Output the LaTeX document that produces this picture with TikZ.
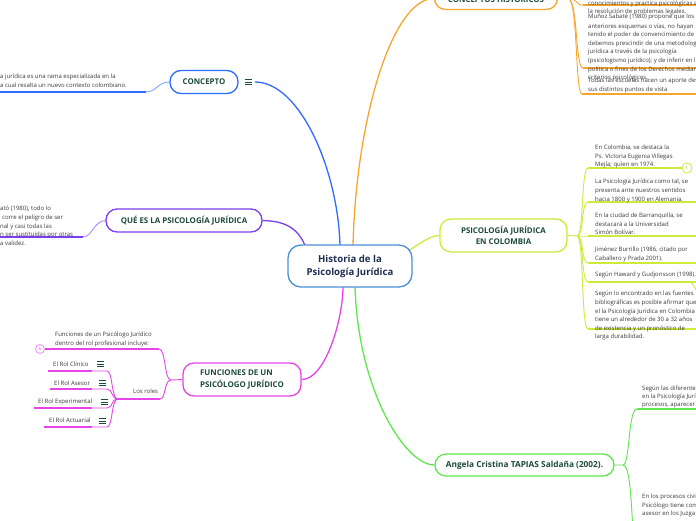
\documentclass[tikz,border=0pt]{standalone}
\usepackage{fontspec}
\setmainfont{Open Sans}
\usetikzlibrary{calc,backgrounds}
\definecolor{cblue}{HTML}{2F6BFF}
\definecolor{cpurple}{HTML}{7B3DF0}
\definecolor{cmag}{HTML}{E545E8}
\definecolor{corange}{HTML}{F8A62B}
\definecolor{cyel}{HTML}{CCEB3C}
\definecolor{cgreen}{HTML}{5EE84C}
\definecolor{croot}{HTML}{4A8FD8}
\definecolor{ctopic}{HTML}{1D4A3A}
\definecolor{ctxt}{HTML}{3A3A3A}
\definecolor{croottext}{HTML}{1E2D52}
\tikzset{
 topic/.style={draw, line width=1.3pt, rounded corners=11pt, fill=white, inner sep=0pt, text=ctopic, font=\fontsize{7.9}{11.5}\selectfont\bfseries},
 txt/.style={anchor=north west, inner sep=0pt, align=left, text=ctxt, font=\fontsize{6}{8.6}\selectfont},
 itm/.style={anchor=base west, inner sep=0pt, text=ctxt, font=\fontsize{6}{8.6}\selectfont},
 conn/.style={line width=1.3pt},
 uline/.style={line width=1.8pt},
 thinl/.style={line width=0.9pt},
 cnt/.style={circle, line width=0.8pt, fill=white, minimum size=9pt, inner sep=0pt, font=\fontsize{4.5}{5}\selectfont},
 hamb/.pic={\draw[line width=0.8pt, ctopic] (-3.5,-2.8)--(3.5,-2.8) (-3.5,0)--(3.5,0) (-3.5,2.8)--(3.5,2.8);}
}
\begin{document}
\begin{tikzpicture}[x=1pt,y=-1pt]
\useasboundingbox (0,0) rectangle (696,520);
% ---------- nodes
\node[draw=croot, line width=1.3pt, rounded corners=13pt, minimum width=124pt, minimum height=42pt, fill=white, align=center, inner sep=0pt, text=croottext, font=\fontsize{9.6}{13}\selectfont\bfseries] (root) at (350,266) {Historia de la\\Psicología Jurídica};

\node[topic, draw=cblue, minimum width=68pt, minimum height=23pt] (concept) at (204,82) {CONCEPTO};
\pic at (248,82) {hamb};
\coordinate (conceptic) at (255,82);
\node[txt] (ctext) at (0,74) {a jurídica es una rama especializada en la\\a cual resalta un nuevo contexto colombiano.};

\node[topic, draw=cpurple, minimum width=156pt, minimum height=23pt] (que) at (184,220.5) {QUÉ ES LA PSICOLOGÍA JURÍDICA};
\node[txt] (qtext) at (0,206) {ató (1980), todo lo\\\hspace*{2pt}corre el peligro de ser\\nal y casi todas las\\n ser sustituidas por otras\\a validez.};

\node[topic, draw=cmag, minimum width=118pt, minimum height=33pt, align=left] (func) at (242,379.5) {FUNCIONES DE UN\\PSICÓLOGO JURÍDICO};
\node[txt] (ftext) at (55,332) {Funciones de un Psicólogo Jurídico\\dentro del rol profesional incluye:};
\node[cnt, draw=cmag!60, text=cmag] (fcirc) at (40,349) {6};
\node[itm] (lrtext) at (133,393.5) {Los roles};
\node[itm] (r1t) at (53,366) {El Rol Clínico};
\node[itm] (r2t) at (54,385) {El Rol Asesor};
\node[itm] (r3t) at (38,403.5) {El Rol Experimental};
\node[itm] (r4t) at (49,422.5) {El Rol Actuarial};
\pic at (100,364) {hamb};
\pic at (102,383) {hamb};
\pic at (104,402) {hamb};
\pic at (102,421) {hamb};

\node[topic, draw=corange, minimum width=123pt, minimum height=22pt] (hist) at (496,-1.5) {CONCEPTOS HISTÓRICOS};
\node[txt] (ha) at (588,0.5) {conocimientos y practica psicológicas a\\la resolución de problemas legales.};
\node[txt] (hb) at (588,13.5) {Muñoz Sabaté (1980) propone que los\\[1.2pt]anteriores esquemas o vías, no hayan\\tenido el poder de convencimiento de q\\debemos prescindir de una metodologí\\jurídica a través de la psicología\\(psicologismo jurídico); y de inferir en la\\política o fines de los Derechos median\\criterios psicológicos.};
\node[txt] (hc) at (588,78) {Todas las escuelas hacen un aporte des\\sus distintos puntos de vista};

\node[topic, draw=cyel, minimum width=127pt, minimum height=33pt, align=center] (col) at (503.5,235.5) {PSICOLOGÍA JURÍDICA\\EN COLOMBIA};
\node[txt] (y1) at (595,145) {En Colombia, se destaca la\\Ps. Victoria Eugenia Villegas\\Mejía; quien en 1974.};
\node[txt] (y2) at (595,179) {La Psicología Jurídica como tal, se\\presenta ante nuestros sentidos\\hacia 1800 y 1900 en Alemania.};
\node[txt] (y3) at (595,213) {En la ciudad de Barranquilla, se\\destacará a la Universidad\\Simón Bolívar.};
\node[txt] (y4) at (595,247) {Jiménez Burrillo (1986, citado por\\Caballero y Prada 2001).};
\node[txt] (y5) at (595,272) {Según Haward y Gudjonsson (1998).};
\node[txt] (y6) at (595,291) {Según lo encontrado en las fuentes\\bibliográficas es posible afirmar que\\el la Psicología Jurídica en Colombia\\tiene un alrededor de 30 a 32 años\\de existencia y un pronóstico de\\larga durabilidad.};
\node[cnt, draw=cyel, text=cyel!70!black, minimum size=10pt] (ycirc) at (687,168) {1};

\node[topic, draw=cgreen, minimum width=179pt, minimum height=22pt, font=\fontsize{8.3}{10}\selectfont\bfseries] (ang) at (524.5,465) {Angela Cristina TAPIAS Saldaña (2002).};
\node[txt, font=\fontsize{6}{8}\selectfont] (g1) at (642,386) {Según las diferente\\en la Psicología Jurí\\procesos, aparecer};
\node[txt] (g2) at (642,494) {En los procesos civi\\Psicólogo tiene com\\asesor en los Juzga};

% ---------- connectors
\begin{scope}[on background layer]
\fill[white] (0,0) rectangle (696,520);
% concept
\coordinate (cu) at (146,92); \coordinate (cu0) at (0,92);
\draw[conn, cblue] (conceptic) .. controls (300,82) and (338,170) .. ($(root.north)+(-10,1)$);
\draw[thinl, cblue!60] (concept.west) .. controls (158,82) and (156,92) .. (cu);
\draw[uline, cblue] (cu) -- (cu0);
% que es
\coordinate (qu) at (83,237); \coordinate (qu0) at (0,237);
\draw[conn, cpurple] (que.east) .. controls (285,221) and (298,228) .. ($(root.north west)+(18,2)$);
\draw[thinl, cpurple!60] (que.west) .. controls (94,221) and (92,237) .. (qu);
\draw[uline, cpurple] (qu) -- (qu0);
% funciones
\draw[conn, cmag] (func.east) .. controls (325,380) and (343,320) .. ($(root.south)+(-7,-1)$);
\coordinate (fh) at (171,380);
\coordinate (f1) at (159,349);
\coordinate (lr) at (160,399); \coordinate (lre) at (118,399);
\draw[thinl, cmag] (func.west) -- (fh) .. controls (164,380) and (166,349) .. (f1);
\draw[uline, cmag] (f1) -- (fcirc.east);
\draw[thinl, cmag] (fh) .. controls (164,380) and (166,399) .. (lr);
\draw[uline, cmag] (lr) -- (lre);
\foreach \y/\xs in {371/48, 389/50, 408/34, 427/44}{
  \coordinate (ra) at (107,\y); \coordinate (rb) at (92,\y); \coordinate (rc) at (\xs,\y);
  \draw[thinl, cmag] (lre) .. controls (111,399) and (113,\y) .. (ra) -- (rb);
  \draw[uline, cmag] (rb) -- (rc);
}
% historicos
\draw[conn, corange] ($(root.north)+(3,1)$) .. controls (356,120) and (392,-1.5) .. (hist.west);
\coordinate (hh) at (568,-1.5);
\draw[thinl, corange] (hist.east) -- (hh);
\foreach \y/\xs in {5/583, 68/583, 94/582}{
  \coordinate (ha1) at (\xs,\y); \coordinate (ha2) at (696,\y);
  \draw[thinl, corange] (hh) .. controls (578,-1.5) and (575,\y) .. (ha1);
  \draw[uline, corange] (ha1) -- (ha2);
}
% colombia
\draw[conn, cyel] ($(root.east)+(-6,-14)$) .. controls (420,244) and (428,236) .. (col.west);
\coordinate (ch) at (577,236);
\draw[thinl, cyel] (col.east) -- (ch);
\foreach \y in {168, 202, 236, 263, 282, 329}{
  \coordinate (ya) at (588,\y);
  \draw[thinl, cyel] (ch) .. controls (584,236) and (581,\y) .. (ya);
}
\draw[uline, cyel] (588,168) -- (ycirc.west);
\foreach \y in {202, 236, 263, 282, 329}{
  \coordinate (yb) at (588,\y); \coordinate (yc) at (696,\y);
  \draw[uline, cyel] (yb) -- (yc);
}
\coordinate (yd) at (688,282); \coordinate (ye) at (697,292);
\draw[thinl, cyel] (yd) .. controls (693,282) and (694,286) .. (ye);
% angela
\draw[conn, cgreen] ($(root.south)+(5,-1)$) .. controls (358,390) and (405,465) .. (ang.west);
\coordinate (ah) at (623,465);
\coordinate (ga) at (637,409); \coordinate (gb) at (696,409);
\coordinate (gc) at (633,530);
\draw[thinl, cgreen] (ang.east) -- (ah) .. controls (630,465) and (628,409) .. (ga);
\draw[uline, cgreen] (ga) -- (gb);
\draw[thinl, cgreen] (ah) .. controls (630,465) and (631,500) .. (gc);
\end{scope}
\end{tikzpicture}
\end{document}
